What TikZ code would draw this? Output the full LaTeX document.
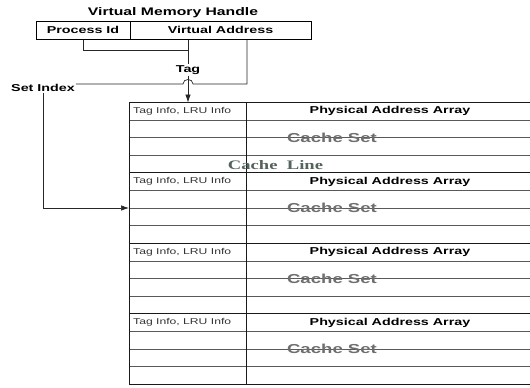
\documentclass[tikz,border=0pt]{standalone}
\usepackage{fontspec}
\setmainfont{Liberation Sans}[FakeStretch=1.43]
\newfontfamily\serifwide{Liberation Serif}[FakeStretch=1.43]
\usetikzlibrary{arrows.meta}
\pgfdeclarelayer{bg}
\pgfsetlayers{bg,main}
\definecolor{setgray}{HTML}{6E6E6E}
\definecolor{linegreen}{HTML}{55645B}
\tikzset{
  field/.style={draw, line width=0.9pt, minimum height=18pt, inner sep=0pt, font=\fontsize{10}{12}\selectfont\bfseries},
  lbl/.style={inner sep=1pt, font=\fontsize{10}{12}\selectfont\bfseries},
  infotext/.style={inner sep=0pt, text=black!80, font=\fontsize{8.5}{10}\selectfont},
  paatext/.style={inner sep=0pt, font=\fontsize{10}{12}\selectfont\bfseries},
  settext/.style={inner sep=0pt, text=setgray, font=\fontsize{13}{15}\selectfont\bfseries},
  wire/.style={line width=0.7pt, draw=black!85},
  tip/.style={-{Latex[length=8pt,width=5.5pt]}},
  rowline/.style={line width=0.6pt, draw=black!65},
  setline/.style={line width=0.8pt, draw=black!90},
  frame/.style={line width=1pt, draw=black!90}
}
\begin{document}
\begin{tikzpicture}[x=1pt,y=-1pt]
        \useasboundingbox (0,0) rectangle (530,388);
        \node (vmh) [lbl, font=\fontsize{11}{13}\selectfont\bfseries] at (173,13) {Virtual Memory Handle};
        \node (pid) [field, minimum width=94pt] at (83,30) {Process Id};
        \node (vaddr) [field, minimum width=181pt] at (220.5,30) {Virtual Address};
        \node (tag) [lbl] at (188,70) {Tag};
        \node (setidx) [lbl] at (43,88) {Set Index};
        \coordinate (pjoin) at (188,50);
        \coordinate (hop) at (188,84);
        \coordinate (sijoin) at (247,84);
        \coordinate (tbltop) at (188,102.5);
        \coordinate (s2mid) at (129,208);
        \node (cline) [text=linegreen, inner sep=0pt, font=\serifwide\fontsize{13}{15}\selectfont\bfseries] at (275.5,165) {Cache\ \ Line};
        \foreach \s in {0,...,3} {
                \pgfmathsetmacro\settop{102.5+70.375*\s}
                \node (info\s) [infotext, anchor=west] at (133,\settop+8.8) {Tag Info, LRU Info};
                \node (paa\s) [paatext] at (390,\settop+8.8) {Physical Address Array};
                \node (cset\s) [settext] at (332,\settop+35.19) {Cache Set};
        }
        \begin{pgfonlayer}{bg}
                \foreach \s in {0,...,3} {
                        \pgfmathsetmacro\settop{102.5+70.375*\s}
                        \draw [setline] (129,\settop) -- (530,\settop);
                        \foreach \r in {1,2,3}
                                \draw [rowline] (129,\settop+\r*17.594) -- (530,\settop+\r*17.594);
                }
                \draw [frame] (530,102.5) -- (129,102.5) -- (129,384) -- (530,384);
                \draw [frame] (246,102.5) -- (246,384);
                \draw [wire] (pid.south) |- (pjoin);
                \draw [wire] (vaddr.south -| pjoin) -- (tag.north);
                \draw [wire, tip] (tag.south) -- (tbltop);
                \draw [wire] (vaddr.south -| sijoin) -- (sijoin) -- ([xshift=5pt]hop)
                        .. controls +(0,-6) and +(0,-6) .. ([xshift=-5pt]hop) -- (setidx.east |- hop);
                \draw [wire, tip] (setidx.south) |- (s2mid);
        \end{pgfonlayer}
\end{tikzpicture}
\end{document}
